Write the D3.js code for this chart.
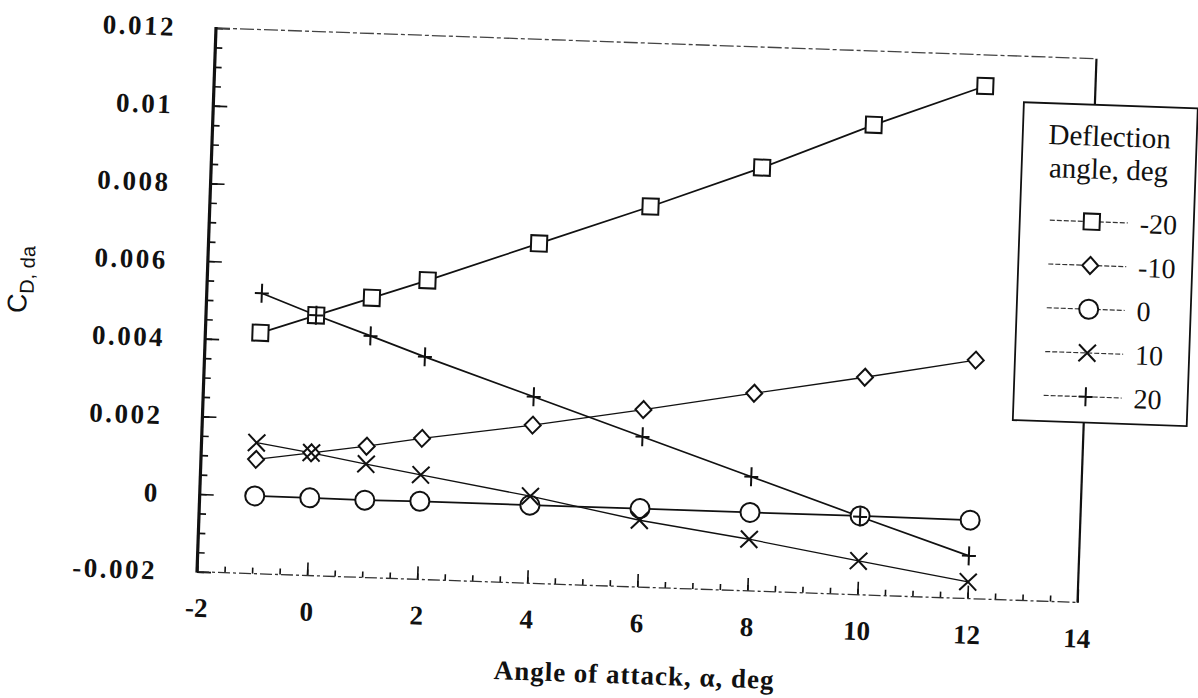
<!DOCTYPE html>
<html>
<head>
<meta charset="utf-8">
<script src="https://cdn.jsdelivr.net/npm/d3@7"></script>
<style>
	body { margin: 0; background: #fff; }
	svg { display: block; }
</style>
</head>
<body>
<div id="chart"></div>
<script>

///////////////////////////////////////////////////////////////////////////
//////////////////////////////// Chart data ///////////////////////////////
///////////////////////////////////////////////////////////////////////////

var alpha = [-1, 0, 1, 2, 4, 6, 8, 10, 12];

var deflections = ["-20", "-10", "0", "10", "20"];
var cdMinus20 = [0.0042, 0.0047, 0.0052, 0.0057, 0.00675, 0.0078, 0.0089, 0.0101, 0.0112];
var cdMinus10 = [0.00094, 0.00116, 0.00138, 0.00163, 0.00207, 0.00257, 0.00309, 0.0036, 0.00414];
var cdZero = [0.0000, 0.0000, -0.00001, 0.00001, 0.00001, 0.00002, 0.00002, 0.00003, 0.00002];
var cdPlus10 = [0.00137, 0.00116, 0.00092, 0.00069, 0.00024, -0.00028, -0.00067, -0.00113, -0.00157];
var cdPlus20 = [0.00522, 0.0047, 0.00422, 0.00373, 0.0028, 0.00187, 0.00094, 0.00001, -0.0009];

var xTicks = [-2, 0, 2, 4, 6, 8, 10, 12, 14];
var yTicks = [-0.002, 0, 0.002, 0.004, 0.006, 0.008, 0.01, 0.012];
var yTickLabels = ["-0.002", "0", "0.002", "0.004", "0.006", "0.008", "0.01", "0.012"];

var xTitle = "Angle of attack, \u03b1, deg";
var legendTitle = ["Deflection", "angle, deg"];

///////////////////////////////////////////////////////////////////////////
//////////////////// Set up and initiate svg containers ///////////////////
///////////////////////////////////////////////////////////////////////////

var svgW = 1198,
	svgH = 698;
var origin = { left: 216, top: 28 },
	width = 881,
	height = 544,
	tilt = 2; // the scanned original sits a little crooked

var svg = d3.select("#chart")
	.append("svg")
	.attr("width", svgW)
	.attr("height", svgH)
	.style("background", "#fff");

var g = svg.append("g")
	.attr("transform", "translate(" + origin.left + "," + origin.top + ") rotate(" + tilt + ")");

var serif = "'Liberation Serif', 'Times New Roman', serif";

var x = d3.scaleLinear().domain([-2, 14]).range([0, width]);
var y = d3.scaleLinear().domain([-0.002, 0.012]).range([height, 0]);

///////////////////////////////////////////////////////////////////////////
///////////////////////////////// Axes ////////////////////////////////////
///////////////////////////////////////////////////////////////////////////

// minor ticks first, major ones on top
var yMinor = d3.range(-0.002, 0.01201, 0.0005);
var xMinor = d3.range(-2, 14.01, 0.5);

g.append("g")
	.call(d3.axisLeft(y).tickValues(yMinor).tickSize(-7).tickFormat(""))
	.call(function(s) { s.select(".domain").remove(); });

g.append("g")
	.attr("transform", "translate(0," + height + ")")
	.call(d3.axisBottom(x).tickValues(xMinor).tickSize(-6).tickFormat(""))
	.call(function(s) { s.select(".domain").remove(); });

var gY = g.append("g")
	.call(d3.axisLeft(y)
		.tickValues(yTicks)
		.tickSize(-14)
		.tickPadding(40)
		.tickFormat(function(d, i) { return yTickLabels[i]; }));

var gX = g.append("g")
	.attr("transform", "translate(0," + height + ")")
	.call(d3.axisBottom(x)
		.tickValues(xTicks)
		.tickSize(-13)
		.tickPadding(26)
		.tickFormat(function(d) { return d; }));

[gX, gY].forEach(function(a) {
	a.select(".domain").remove();
	a.selectAll("text")
		.attr("fill", "#111")
		.style("font-family", serif)
		.style("font-weight", "bold")
		.style("font-size", "27px");
});
gY.selectAll("text").style("letter-spacing", "2.5px");

g.selectAll(".tick line").attr("stroke", "#111").attr("stroke-width", 1.6);

///////////////////////////////////////////////////////////////////////////
///////////////////////////////// Frame ///////////////////////////////////
///////////////////////////////////////////////////////////////////////////

// top border (faint in the scan)
g.append("line")
	.attr("x1", 0).attr("y1", 0).attr("x2", width).attr("y2", 0)
	.attr("stroke", "#444")
	.attr("stroke-width", 1.3)
	.attr("stroke-dasharray", "14,3,4,3");

// bottom border
g.append("line")
	.attr("x1", 0).attr("y1", height).attr("x2", width).attr("y2", height)
	.attr("stroke", "#333")
	.attr("stroke-width", 1.3)
	.attr("stroke-dasharray", "12,3,3,3");

// right border
g.append("line")
	.attr("x1", width).attr("y1", 0).attr("x2", width).attr("y2", height)
	.attr("stroke", "#111")
	.attr("stroke-width", 2.2);

// left border (heavy)
g.append("line")
	.attr("x1", 0).attr("y1", -1).attr("x2", 0).attr("y2", height + 1)
	.attr("stroke", "#111")
	.attr("stroke-width", 3.2);

///////////////////////////////////////////////////////////////////////////
/////////////////////////////// Marker shapes /////////////////////////////
///////////////////////////////////////////////////////////////////////////

function markerPath(kind) {
	var p = d3.path();
	if (kind === "square") {
		p.rect(-8, -8, 16, 16);
	} else if (kind === "diamond") {
		p.moveTo(0, -8.5); p.lineTo(8, 0); p.lineTo(0, 8.5); p.lineTo(-8, 0); p.closePath();
	} else if (kind === "circle") {
		p.moveTo(9.5, 0); p.arc(0, 0, 9.5, 0, 2 * Math.PI);
	} else if (kind === "times") {
		p.moveTo(-8.5, -8.5); p.lineTo(8.5, 8.5);
		p.moveTo(-8.5, 8.5); p.lineTo(8.5, -8.5);
	} else {
		p.moveTo(0, -9.5); p.lineTo(0, 9.5);
		p.moveTo(-7, 0); p.lineTo(7, 0);
	}
	return p.toString();
}

// the -10 and +10 curves are printed lighter in the original
var series = [
	{ name: deflections[0], values: cdMinus20, marker: "square", filled: true, weight: 1.7 },
	{ name: deflections[1], values: cdMinus10, marker: "diamond", filled: true, weight: 1.3 },
	{ name: deflections[2], values: cdZero, marker: "circle", filled: true, weight: 1.7 },
	{ name: deflections[3], values: cdPlus10, marker: "times", filled: false, weight: 1.3 },
	{ name: deflections[4], values: cdPlus20, marker: "plus", filled: false, weight: 1.7 }
];

///////////////////////////////////////////////////////////////////////////
/////////////////////////////// Draw the lines ////////////////////////////
///////////////////////////////////////////////////////////////////////////

var line = d3.line()
	.x(function(d) { return x(d[0]); })
	.y(function(d) { return y(d[1]); });

series.forEach(function(s) {
	s.points = alpha.map(function(a, i) { return [a, s.values[i]]; });
});

g.selectAll(".series-line")
	.data(series)
	.enter()
	.append("path")
	.attr("class", "series-line")
	.attr("fill", "none")
	.attr("stroke", "#111")
	.attr("stroke-width", function(s) { return s.weight; })
	.attr("d", function(s) { return line(s.points); });

series.forEach(function(s) {
	g.selectAll(".m-" + s.marker)
		.data(s.points)
		.enter()
		.append("path")
		.attr("class", "m-" + s.marker)
		.attr("transform", function(d) { return "translate(" + x(d[0]) + "," + y(d[1]) + ")"; })
		.attr("d", markerPath(s.marker))
		.attr("fill", s.filled ? "#fff" : "none")
		.attr("stroke", "#111")
		.attr("stroke-width", 2);
});

///////////////////////////////////////////////////////////////////////////
////////////////////////////// Axis titles ////////////////////////////////
///////////////////////////////////////////////////////////////////////////

g.append("text")
	.attr("x", width / 2)
	.attr("y", height + 97)
	.attr("text-anchor", "middle")
	.style("font-family", serif)
	.style("font-weight", "bold")
	.style("font-size", "27px")
	.style("letter-spacing", "1px")
	.attr("fill", "#111")
	.text(xTitle);

var yTitle = g.append("text")
	.attr("transform", "translate(-180," + 258 + ") rotate(-90)")
	.attr("text-anchor", "middle")
	.style("font-family", "'Liberation Sans', Arial, sans-serif")
	.style("font-size", "27px")
	.attr("fill", "#111");
yTitle.append("tspan").text("C");
yTitle.append("tspan")
	.attr("dy", "0.35em")
	.style("font-size", "20px")
	.text("D, da");

///////////////////////////////////////////////////////////////////////////
/////////////////////////////// Draw the legend ///////////////////////////
///////////////////////////////////////////////////////////////////////////

var legend = g.append("g")
	.attr("transform", "translate(810,46)");

legend.append("rect")
	.attr("x", 0)
	.attr("y", 0)
	.attr("width", 174)
	.attr("height", 318)
	.attr("fill", "#fff")
	.attr("stroke", "#111")
	.attr("stroke-width", 1.8);

legend.selectAll(".legend-title")
	.data(legendTitle)
	.enter()
	.append("text")
	.attr("class", "legend-title")
	.attr("x", 87)
	.attr("y", function(d, i) { return 41 + i * 33; })
	.attr("text-anchor", "middle")
	.style("font-family", serif)
	.style("font-size", "29px")
	.attr("fill", "#111")
	.text(function(d) { return d; });

var entry = legend.selectAll(".legend-entry")
	.data(series)
	.enter()
	.append("g")
	.attr("class", "legend-entry")
	.attr("transform", function(d, i) { return "translate(0," + (117 + i * 43.8) + ")"; });

entry.append("line")
	.attr("x1", 30).attr("x2", 108)
	.attr("y1", 0).attr("y2", 0)
	.attr("stroke", "#333")
	.attr("stroke-width", 1.2)
	.attr("stroke-dasharray", "5,2");

entry.append("path")
	.attr("transform", "translate(72,0)")
	.attr("d", function(d) { return markerPath(d.marker); })
	.attr("fill", function(d) { return d.filled ? "#fff" : "none"; })
	.attr("stroke", "#111")
	.attr("stroke-width", 2);

entry.append("text")
	.attr("x", 120)
	.attr("y", 0)
	.attr("dy", "0.35em")
	.style("font-family", serif)
	.style("font-size", "28px")
	.attr("fill", "#111")
	.text(function(d) { return d.name; });

</script>
</body>
</html>
